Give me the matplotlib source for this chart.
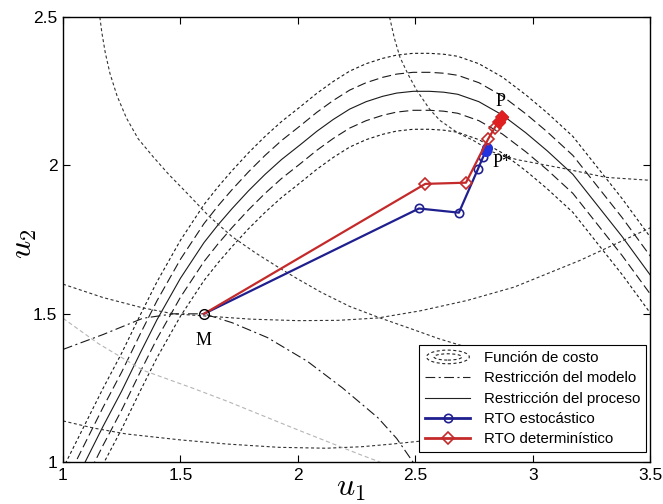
import matplotlib
matplotlib.use("Agg")
import matplotlib.pyplot as plt
from matplotlib.lines import Line2D
from matplotlib.patches import Ellipse
from matplotlib.legend_handler import HandlerBase

plt.rcParams['font.family'] = ['Liberation Sans', 'DejaVu Sans']
plt.rcParams['mathtext.fontset'] = 'cm'
plt.rcParams['lines.scale_dashes'] = False

#Process constraint (centre of the band)
proc_u1 = [1.01, 1.094, 1.17, 1.25, 1.33, 1.40, 1.50, 1.60, 1.66, 1.72, 1.79, 1.86, 1.93, 2.01, 2.08, 2.15, 2.22, 2.29,
           2.36, 2.42, 2.49, 2.56, 2.62, 2.68, 2.77, 2.87, 2.97, 3.06, 3.17, 3.27, 3.38, 3.50]
proc_u2 = [0.867, 1.00, 1.12, 1.24, 1.37, 1.48, 1.62, 1.74, 1.80, 1.855, 1.915, 1.97, 2.02, 2.07, 2.115, 2.155, 2.19, 2.215,
           2.233, 2.244, 2.25, 2.25, 2.247, 2.24, 2.215, 2.17, 2.11, 2.05, 1.97, 1.87, 1.76, 1.63]
#vertical shift of each curve in the band (top to bottom)
band_offsets = [0.128, 0.064, 0.0, -0.064, -0.128]

#Cost function contours
arc_u1 = [1.157, 1.165, 1.18, 1.20, 1.23, 1.27, 1.32, 1.383, 1.45, 1.53, 1.62, 1.72, 1.82, 1.92,
          2.0, 2.1, 2.22, 2.35, 2.48, 2.6, 2.75, 2.9]
arc_u2 = [2.5, 2.45, 2.38, 2.31, 2.235, 2.16, 2.09, 2.03, 1.97, 1.905, 1.83, 1.76, 1.705, 1.655,
          1.617, 1.572, 1.525, 1.486, 1.45, 1.416, 1.38, 1.35]

mcost_u1 = [1.0, 1.17, 1.34, 1.47, 1.6, 1.8, 2.0, 2.17, 2.34, 2.52, 2.72, 2.92, 3.2, 3.5]
mcost_u2 = [1.60, 1.555, 1.52, 1.50, 1.493, 1.482, 1.477, 1.478, 1.486, 1.51, 1.545, 1.59, 1.68, 1.79]

pcost_u1 = [2.39, 2.41, 2.434, 2.47, 2.506, 2.56, 2.604, 2.68, 2.745, 2.83, 2.93, 3.13, 3.31, 3.5]
pcost_u2 = [2.5, 2.43, 2.365, 2.305, 2.253, 2.19, 2.152, 2.11, 2.085, 2.045, 2.02, 1.99, 1.96, 1.95]

lcost_u1 = [1.0, 1.13, 1.27, 1.50, 1.70, 1.92, 2.12, 2.27, 2.40, 2.51, 2.70]
lcost_u2 = [1.139, 1.115, 1.095, 1.075, 1.061, 1.05, 1.047, 1.052, 1.061, 1.07, 1.085]

gray_u1 = [1.0, 1.15, 1.34, 1.55, 1.70, 1.98, 2.26, 2.35]
gray_u2 = [1.485, 1.40, 1.31, 1.25, 1.205, 1.115, 1.027, 1.0]

#Model constraint (dash-dot)
model_u1 = [1.0, 1.17, 1.34, 1.47, 1.6, 1.72, 1.87, 2.04, 2.19, 2.34, 2.42, 2.49]
model_u2 = [1.38, 1.43, 1.485, 1.50, 1.50, 1.47, 1.42, 1.34, 1.25, 1.15, 1.08, 1.0]

#RTO iterations
sto_u1 = [1.6, 2.515, 2.685, 2.766, 2.787, 2.80, 2.806]
sto_u2 = [1.5, 1.855, 1.841, 1.988, 2.027, 2.048, 2.058]
det_u1 = [1.6, 2.542, 2.715, 2.81, 2.838, 2.855, 2.868]
det_u2 = [1.5, 1.938, 1.942, 2.09, 2.128, 2.148, 2.165]

m_point = (1.6, 1.5)
xticks = [1, 1.5, 2, 2.5, 3, 3.5]
yticks = [1, 1.5, 2, 2.5]
xtick_labels = ['1', '1.5', '2', '2.5', '3', '3.5']
ytick_labels = ['1', '1.5', '2', '2.5']
legend_labels = ['Función de costo', 'Restricción del modelo', 'Restricción del proceso',
                 'RTO estocástico', 'RTO determinístico']

DOT = (0, (2.2, 1.8))
LDASH = (0, (6.5, 3.0))
DASHDOT = (0, (7, 2.5, 1.5, 2.5))
BLUE = '#1f1f8f'
RED = '#c42a2a'


class HandlerEllipses(HandlerBase):
    #two concentric dotted ellipses, like the matlab contour icon
    def create_artists(self, legend, orig_handle, xdescent, ydescent,
                       width, height, fontsize, trans):
        cx = width / 2 - xdescent
        cy = height / 2 - ydescent
        outer = Ellipse((cx, cy), width * 0.95, height * 1.3, fill=False,
                        ls=DOT, lw=0.8, ec='#222222', transform=trans)
        inner = Ellipse((cx, cy), width * 0.62, height * 0.6, fill=False,
                        ls=DOT, lw=0.8, ec='#222222', transform=trans)
        return [outer, inner]


fig = plt.figure(figsize=(6.63, 5.04), dpi=100)
ax = fig.add_axes([0.095, 0.083, 0.886, 0.883])

#Band around process constraint
band_ls = [DOT, LDASH, '-', LDASH, DOT]
for off, ls in zip(band_offsets, band_ls):
    ax.plot(proc_u1, [v + off for v in proc_u2], color='#1a1a1a', lw=0.8, ls=ls)

#Cost contours
for cu1, cu2 in [(arc_u1, arc_u2), (mcost_u1, mcost_u2), (pcost_u1, pcost_u2), (lcost_u1, lcost_u2)]:
    ax.plot(cu1, cu2, color='#333333', lw=0.8, ls=DOT)
ax.plot(gray_u1, gray_u2, color='#b5b5b5', lw=0.8, ls=(0, (3, 2)))
ax.plot(model_u1, model_u2, color='#1a1a1a', lw=0.8, ls=DASHDOT)

#RTO paths
ax.plot(sto_u1, sto_u2, color=BLUE, lw=1.6, marker='o', ms=6, mfc='none', mew=1.2,
        markevery=list(range(1, len(sto_u1))))
ax.plot(sto_u1[-2:], sto_u2[-2:], ls='none', marker='o', ms=7, color='#2233dd')
ax.plot(det_u1, det_u2, color=RED, lw=1.6, marker='D', ms=6, mfc='none', mew=1.2,
        markevery=list(range(1, len(det_u1))))
ax.plot(det_u1[-2:], det_u2[-2:], ls='none', marker='D', ms=6.5, color='#e02020')
ax.plot(*m_point, ls='none', marker='o', ms=7, mfc='none', mec='black', mew=1)

#Point labels
ax.text(1.6, 1.41, 'M', family='Liberation Serif', fontsize=13, ha='center', va='center')
ax.text(2.864, 2.215, 'P', family='Liberation Serif', fontsize=13, ha='center', va='center')
ax.text(2.826, 2.01, 'P*', family='Liberation Serif', fontsize=13, ha='left', va='center')

ax.set_xlim(1, 3.5)
ax.set_ylim(1, 2.5)
ax.set_xticks(xticks)
ax.set_xticklabels(xtick_labels)
ax.set_yticks(yticks)
ax.set_yticklabels(ytick_labels)
ax.tick_params(direction='in', top=True, right=True, length=5, width=0.8, labelsize=12.5, pad=4)
for s in ax.spines.values():
    s.set_linewidth(1.0)

ax.set_xlabel(r'$u_1$', fontsize=23)
ax.xaxis.set_label_coords(0.49, -0.024)
ax.set_ylabel(r'$u_2$', fontsize=23)
ax.yaxis.set_label_coords(-0.04, 0.49)

#Legend
cost_h = Line2D([], [], color='#222222', lw=0.8, ls=DOT)
model_h = Line2D([], [], color='#222222', lw=0.8, ls=DASHDOT)
proc_h = Line2D([], [], color='#222222', lw=0.8, ls='-')
sto_h = Line2D([], [], color=BLUE, lw=2, marker='o', ms=6, mfc='none', mew=1.2)
det_h = Line2D([], [], color=RED, lw=2, marker='D', ms=6, mfc='none', mew=1.2)
leg = ax.legend([cost_h, model_h, proc_h, sto_h, det_h], legend_labels,
                handler_map={cost_h: HandlerEllipses()},
                loc='lower right', bbox_to_anchor=(0.993, 0.022), borderaxespad=0,
                fontsize=10.8, handlelength=3.0, handletextpad=0.9, labelspacing=0.42,
                borderpad=0.4, fancybox=False, framealpha=1, edgecolor='black')
leg.get_frame().set_linewidth(0.8)

fig.savefig('out.png', dpi=100)
